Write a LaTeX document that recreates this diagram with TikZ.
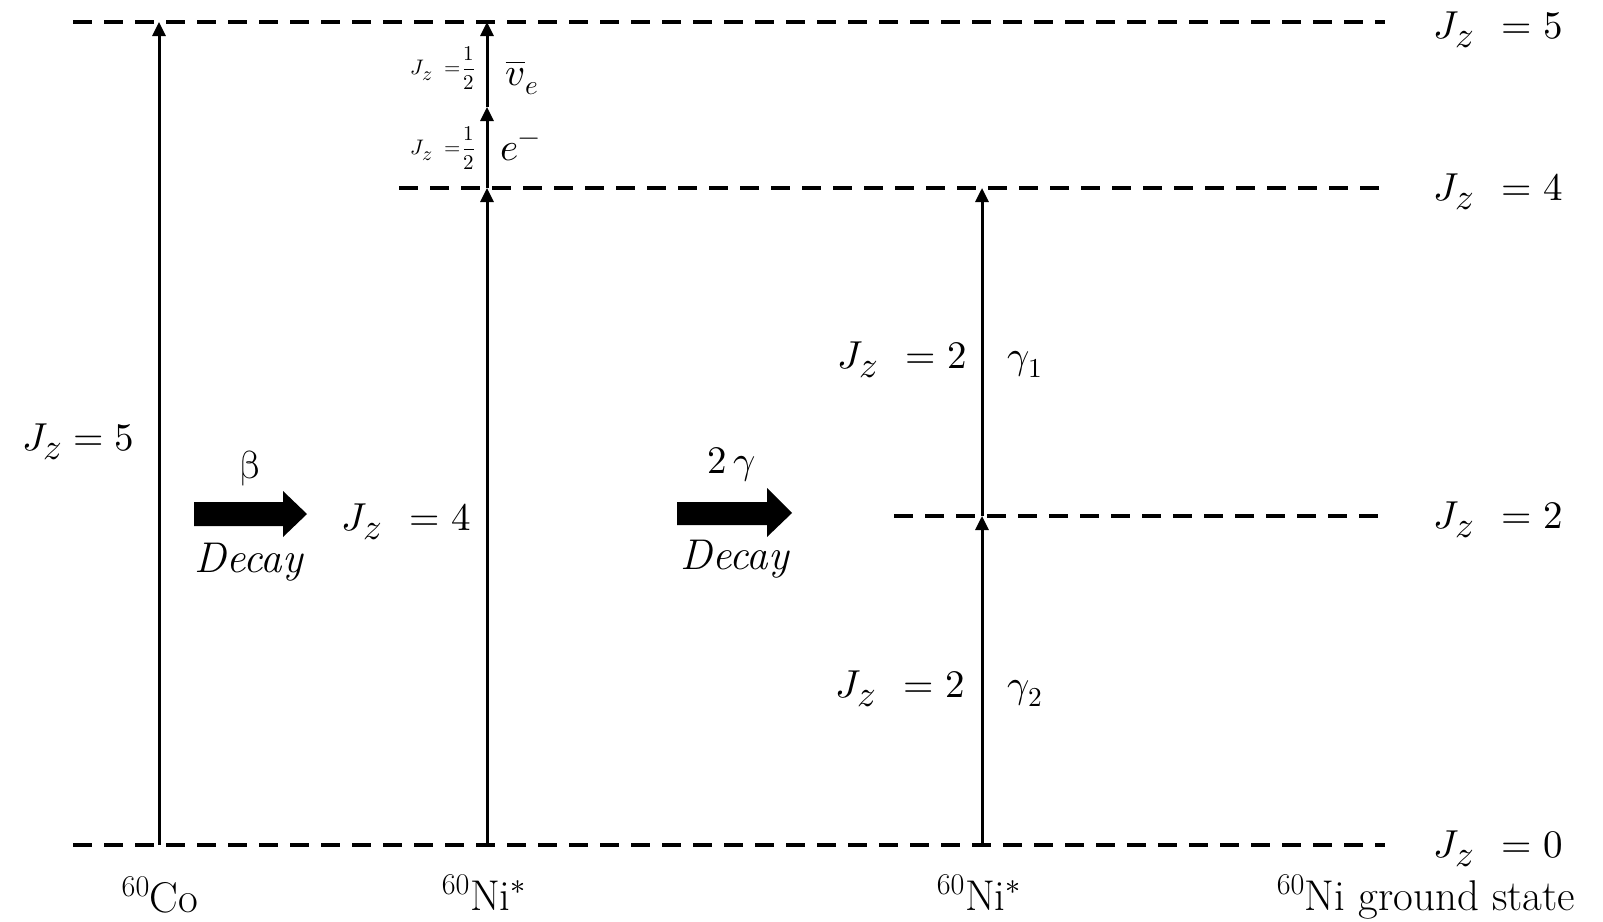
\documentclass[tikz,border=0pt]{standalone}
\usepackage{unicode-math}
\setmathfont{Latin Modern Math}
\usetikzlibrary{arrows.meta}
\newcommand\myJz{J_{\scalebox{1.35}{$\scriptstyle z$}}}
\begin{document}
\begin{tikzpicture}[x=1pt,y=-1pt,
  levelline/.style={line width=4pt, dash pattern=on 19pt off 12pt},
  trans/.style={line width=3pt, -{Triangle[length=14pt,width=13pt]}},
  lbl/.style={font=\fontsize{39}{44}\selectfont, inner sep=0pt, anchor=base},
  txt/.style={font=\fontsize{43}{48}\selectfont, inner sep=0pt, anchor=base},
  smalllbl/.style={font=\fontsize{21}{24}\selectfont, inner sep=0pt},
  fat/.style={fill=black}]
\useasboundingbox (0,0) rectangle (1603,921);
% level lines
\coordinate (L5a) at (73,22);  \coordinate (L5b) at (1385,22);
\coordinate (L4a) at (399,188); \coordinate (L4b) at (1385,188);
\coordinate (L2a) at (894,516); \coordinate (L2b) at (1385,516);
\coordinate (L0a) at (73,845);  \coordinate (L0b) at (1385,845);
\draw[levelline] (L5a) -- (L5b);
\draw[levelline] (L4a) -- (L4b);
\draw[levelline] (L2a) -- (L2b);
\draw[levelline] (L0a) -- (L0b);
% transitions
\coordinate (co0) at (159,845); \coordinate (co5) at (159,22);
\draw[trans] (co0) -- (co5);
\coordinate (ni0) at (487,845); \coordinate (ni4) at (487,188);
\coordinate (nie) at (487,107); \coordinate (ni5) at (487,22);
\draw[trans] (ni0) -- (ni4);
\draw[trans] (ni4) -- (nie);
\draw[trans] (nie) -- (ni5);
\coordinate (g0) at (982,845); \coordinate (g2) at (982,516); \coordinate (g4) at (982,188);
\draw[trans] (g0) -- (g2);
\draw[trans] (g2) -- (g4);
% fat arrows
\fill[fat] (194,502) -- (283,502) -- (283,491) -- (307,514) -- (283,537) -- (283,526) -- (194,526) -- cycle;
\fill[fat] (677,502) -- (767,502) -- (767,488) -- (792,513) -- (767,537) -- (767,525) -- (677,525) -- cycle;
% right labels
\node[lbl] (r5) at (1498,38) {$\myJz\;\,= 5$};
\node[lbl] (r4) at (1498,200) {$\myJz\;\,= 4$};
\node[lbl] (r2) at (1498,528) {$\myJz\;\,= 2$};
\node[lbl] (r0) at (1498,857) {$\myJz\;\,= 0$};
% left / middle labels
\node[lbl] (l5) at (78,450) {$\myJz = 5$};
\node[lbl] (beta) at (250,478) {$\upbeta$};
\node[txt] (dec1) at (249,572) {\textit{Decay}};
\node[lbl] (m4) at (406,530) {$\myJz\;\,= 4$};
\node[lbl] (twog) at (732,473) {$2\,\gamma$};
\node[txt] (dec2) at (735,569) {\textit{Decay}};
\node[lbl] (u2) at (902,368) {$\myJz\;\,= 2$};
\node[lbl] (g1) at (1025,368) {$\gamma_1$};
\node[lbl] (d2) at (900,697) {$\myJz\;\,= 2$};
\node[lbl] (g2l) at (1025,697) {$\gamma_2$};
% small labels
\node[smalllbl] (sj1) at (443,68) {$\myJz\;=\!\dfrac{1}{2}$};
\node[smalllbl] (sj2) at (443,148) {$\myJz\;=\!\dfrac{1}{2}$};
\node[lbl] (nu) at (522,85) {$\overline{v}_e$};
\node[lbl] (el) at (520,160) {$e^-$};
% bottom labels
\node[txt] (bco) at (160,912) {\textsuperscript{60}Co};
\node[txt] (bni1) at (484,910) {\textsuperscript{60}Ni$^*$};
\node[txt] (bni2) at (979,910) {\textsuperscript{60}Ni$^*$};
\node[txt] (bgs) at (1426,910) {\textsuperscript{60}Ni ground state};
\end{tikzpicture}
\end{document}
